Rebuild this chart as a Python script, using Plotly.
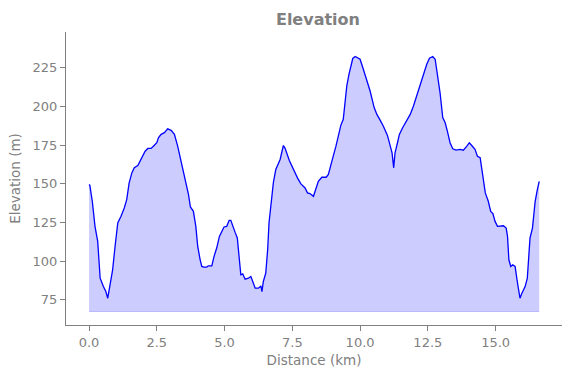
import plotly.graph_objects as go

# Distance along route (km) and elevation (m)
distance_km = [0.00, 0.03, 0.12, 0.22, 0.32, 0.41, 0.53, 0.62, 0.69, 0.77, 0.87, 0.96,
               1.06, 1.18, 1.30, 1.39, 1.48, 1.58, 1.67, 1.80, 1.88, 1.97, 2.07, 2.17,
               2.29, 2.40, 2.50, 2.56, 2.66, 2.78, 2.90, 3.03, 3.15, 3.27, 3.38, 3.48,
               3.58, 3.67, 3.74, 3.85, 3.94, 4.01, 4.10, 4.16, 4.24, 4.34, 4.40, 4.53,
               4.61, 4.71, 4.81, 4.91, 4.98, 5.08, 5.17, 5.23, 5.30, 5.39, 5.47, 5.55,
               5.60, 5.67, 5.76, 5.88, 5.97, 6.04, 6.13, 6.25, 6.34, 6.38, 6.43, 6.52,
               6.59, 6.64, 6.72, 6.80, 6.89, 6.96, 7.05, 7.17, 7.23, 7.39, 7.54, 7.69,
               7.81, 7.97, 8.06, 8.15, 8.28, 8.38, 8.46, 8.59, 8.75, 8.83, 8.92, 9.01,
               9.11, 9.20, 9.29, 9.38, 9.45, 9.51, 9.59, 9.66, 9.73, 9.82, 9.90, 10.00,
               10.10, 10.22, 10.37, 10.52, 10.62, 10.74, 10.86, 11.01, 11.11, 11.18, 11.24,
               11.29, 11.38, 11.45, 11.57, 11.72, 11.85, 11.97, 12.09, 12.21, 12.34, 12.46,
               12.56, 12.68, 12.77, 12.85, 12.95, 13.05, 13.14, 13.22, 13.32, 13.42, 13.54,
               13.69, 13.81, 13.94, 14.03, 14.12, 14.24, 14.33, 14.43, 14.53, 14.62, 14.73,
               14.82, 14.90, 14.98, 15.07, 15.17, 15.29, 15.39, 15.44, 15.49, 15.56, 15.63,
               15.72, 15.80, 15.90, 15.97, 16.09, 16.17, 16.24, 16.27, 16.36, 16.46, 16.54,
               16.61]
elevation_m = [149.5, 149.0, 138.7, 122.5, 112.8, 89.0, 83.6, 80.4, 76.1, 83.6, 94.4, 109.5,
               124.7, 129.0, 134.4, 139.8, 150.6, 157.0, 160.3, 161.8, 164.6, 167.8, 171.0, 172.8,
               172.8, 174.7, 176.5, 179.7, 181.9, 183.0, 185.5, 184.5, 181.9, 174.3, 165.7, 158.1,
               151.6, 143.0, 135.0, 132.2, 122.5, 109.5, 100.9, 96.6, 96.2, 96.2, 97.0, 97.0,
               103.0, 108.5, 116.0, 119.2, 122.1, 122.5, 126.4, 126.4, 122.5, 118.6, 115.0, 100.9,
               91.2, 91.8, 88.4, 89.0, 90.1, 86.9, 82.6, 82.6, 84.0, 80.4, 86.9, 92.3,
               107.4, 124.7, 137.6, 150.6, 159.2, 161.8, 165.7, 174.7, 173.0, 165.0, 159.2, 153.8,
               150.1, 147.3, 144.1, 143.7, 141.9, 147.3, 151.6, 154.2, 154.2, 156.0, 161.3, 167.8,
               174.3, 181.9, 187.7, 191.6, 202.4, 213.2, 220.7, 225.1, 230.9, 232.2, 231.5, 230.4,
               225.1, 218.6, 209.9, 199.2, 194.8, 191.1, 187.2, 181.2, 174.3, 170.0, 160.3,
               170.0, 176.5, 181.9, 186.2, 190.5, 194.8, 200.2, 206.7, 214.2, 220.7, 227.2,
               231.1, 232.2, 230.4, 221.8, 208.9, 192.7, 189.4, 184.0, 176.5, 172.6, 171.7,
               172.2, 171.7, 174.3, 176.5, 174.7, 172.2, 167.8, 166.8, 154.9, 144.1, 138.7,
               132.2, 130.7, 125.7, 122.5, 122.9, 122.9, 121.4, 116.0, 100.9, 96.6, 97.7,
               96.6, 86.9, 76.1, 79.3, 83.6, 89.0, 107.4, 115.0, 121.4, 138.7, 146.2,
               151.6]
baseline_m = 67.5

x_ticks = [0.0, 2.5, 5.0, 7.5, 10.0, 12.5, 15.0]
x_tick_labels = ["0.0", "2.5", "5.0", "7.5", "10.0", "12.5", "15.0"]
y_ticks = [75, 100, 125, 150, 175, 200, 225]
y_tick_labels = ["75", "100", "125", "150", "175", "200", "225"]

GREY = "#808080"
FONT = "DejaVu Sans"

fig = go.Figure()
fig.add_trace(go.Scatter(
    x=distance_km, y=[baseline_m] * len(distance_km),
    mode="lines", line=dict(color="rgba(0,0,255,0.2)", width=1),
    hoverinfo="skip", showlegend=False))
fig.add_trace(go.Scatter(
    x=distance_km, y=elevation_m, mode="lines",
    line=dict(color="blue", width=1.3),
    fill="tonexty", fillcolor="rgba(0,0,255,0.2)", showlegend=False))

fig.update_layout(
    width=571, height=378,
    margin=dict(l=66, r=9, t=32, b=53, autoexpand=False),
    paper_bgcolor="white", plot_bgcolor="white",
    font=dict(family=FONT, size=13, color=GREY),
    title=dict(text="<b>Elevation</b>", xref="paper", x=0.508, xanchor="center",
               yref="container", y=1 - 19 / 378, yanchor="middle",
               font=dict(family=FONT, size=16, color=GREY)),
    xaxis=dict(range=[-0.85, 17.45], tickvals=x_ticks, ticktext=x_tick_labels,
               showgrid=False, zeroline=False, showline=True, linecolor=GREY,
               linewidth=1, ticks="outside", ticklen=5, tickcolor=GREY,
               tickfont=dict(size=13, color=GREY), automargin=False,
               title=dict(text="Distance (km)", font=dict(size=13.5, color=GREY),
                          standoff=6)),
    yaxis=dict(range=[58.8, 248], tickvals=y_ticks, ticktext=y_tick_labels,
               showgrid=False, zeroline=False, showline=True, linecolor=GREY,
               linewidth=1, ticks="outside", ticklen=5, tickcolor=GREY,
               tickfont=dict(size=13, color=GREY), automargin=False,
               title=dict(text="Elevation (m)", font=dict(size=13.5, color=GREY),
                          standoff=8)),
)

fig.write_html("out.html", config={"displayModeBar": False},
               post_script="document.body.style.margin='0px';")
